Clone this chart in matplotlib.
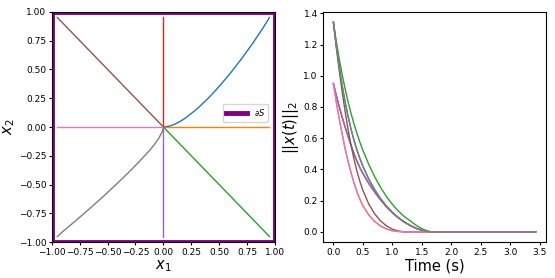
import numpy as np
import matplotlib
matplotlib.use("Agg")
import matplotlib.pyplot as plt

# phase-plane trajectories (x1, x2), one per initial condition
blue_x1 = [0.95, 0.9, 0.8, 0.7, 0.6, 0.5, 0.4, 0.3, 0.2, 0.15, 0.1, 0.05, 0.0]
blue_x2 = [0.95, 0.871, 0.726, 0.592, 0.467, 0.352, 0.248, 0.156, 0.079,
           0.048, 0.0235, 0.0064, 0.0]
gray_x1 = [-0.95, -0.893, -0.77, -0.651, -0.536, -0.425, -0.318, -0.216,
           -0.121, -0.0785, -0.0425, -0.015, -0.005, 0.0]
gray_x2 = [-0.95, -0.9, -0.8, -0.7, -0.6, -0.5, -0.4, -0.3, -0.2, -0.15, -0.1,
           -0.05, -0.025, 0.0]

traj_x1 = [blue_x1, [0.95, 0.0], [0.95, 0.0], [0.0, 0.0], [0.0, 0.0],
           [-0.95, 0.0], [-0.95, 0.0], gray_x1]
traj_x2 = [blue_x2, [0.0, 0.0], [-0.95, 0.0], [0.95, 0.0], [-0.95, 0.0],
           [0.95, 0.0], [0.0, 0.0], gray_x2]

# norm of the state over time
t = [0.0, 0.05, 0.1, 0.15, 0.2, 0.25, 0.3, 0.35, 0.4, 0.45, 0.5, 0.6, 0.7, 0.8,
     0.9, 1.0, 1.1, 1.2, 1.3, 1.4, 1.5, 1.6, 1.65, 1.7, 3.43]
norm_green = [1.343, 1.218, 1.106, 1.005, 0.914, 0.832, 0.758, 0.691, 0.630,
              0.574, 0.523, 0.432, 0.353, 0.285, 0.226, 0.176, 0.134, 0.099,
              0.071, 0.043, 0.020, 0.005, 0.001, 0.0, 0.0]
norm_gray = [1.343, 1.19, 1.055, 0.935, 0.83, 0.738, 0.657, 0.586, 0.524, 0.469,
             0.420, 0.338, 0.270, 0.213, 0.165, 0.125, 0.092, 0.064, 0.041,
             0.023, 0.010, 0.002, 0.0, 0.0, 0.0]
norm_purple = [0.95, 0.872, 0.80, 0.733, 0.67, 0.61, 0.553, 0.50, 0.452, 0.41,
               0.374, 0.31, 0.255, 0.205, 0.16, 0.122, 0.09, 0.063, 0.041,
               0.023, 0.010, 0.002, 0.0, 0.0, 0.0]
norm_brown = [1.343, 1.18, 1.03, 0.893, 0.768, 0.655, 0.554, 0.465, 0.388,
              0.322, 0.266, 0.178, 0.115, 0.07, 0.038, 0.017, 0.005, 0.0, 0.0,
              0.0, 0.0, 0.0, 0.0, 0.0, 0.0]
norm_pink = [0.95, 0.83, 0.722, 0.625, 0.53, 0.45, 0.378, 0.313, 0.256, 0.208,
             0.168, 0.108, 0.066, 0.037, 0.018, 0.007, 0.002, 0.0, 0.0, 0.0,
             0.0, 0.0, 0.0, 0.0, 0.0]
norms = [norm_gray, norm_pink, norm_green, norm_purple, norm_purple,
         norm_brown, norm_pink, norm_gray]

fig = plt.figure(figsize=(5.55, 2.78), dpi=100)
ax1 = fig.add_axes([0.0932, 0.1284, 0.4024, 0.8295])
ax2 = fig.add_axes([0.5825, 0.1284, 0.4007, 0.8295])

for i in range(8):
    ax1.plot(traj_x1[i], traj_x2[i], color=f"C{i}", lw=1)

# boundary of the set S
ax1.plot([-1, 1, 1, -1, -1], [-1, -1, 1, 1, -1], color="purple", lw=3.5,
         label=r"$\partial S$")
ax1.set_xlim(-1, 1)
ax1.set_ylim(-1, 1)
ax1.set_xlabel(r"$x_1$", fontsize=10.5, labelpad=1)
ax1.set_ylabel(r"$x_2$", fontsize=10.5, labelpad=1)
ax1.tick_params(labelsize=6.5, length=2.5, pad=1.5)
ax1.legend(loc="center right", bbox_to_anchor=(0.97, 0.5616), borderaxespad=0,
           fontsize=6, handlelength=2.5, borderpad=0.4)

for i in range(8):
    ax2.plot(t, norms[i], color=f"C{i}", lw=1)
ax2.set_xlabel("Time (s)", fontsize=10.5, labelpad=1)
ax2.set_ylabel(r"$||x(t)||_2$", fontsize=10.5, labelpad=2)
ax2.set_xticks(np.arange(0, 3.6, 0.5))
ax2.tick_params(labelsize=6.5, length=2.5, pad=1.5)

fig.savefig("out.png", dpi=100)
